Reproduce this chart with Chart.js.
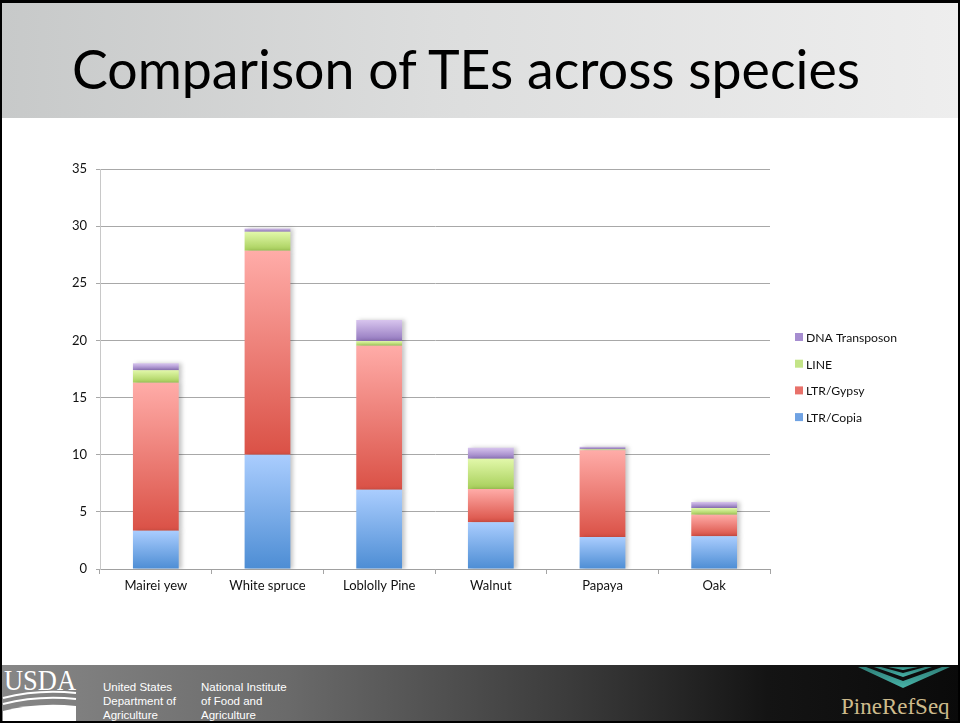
<!DOCTYPE html>
<html>
<head>
<meta charset="utf-8">
<script src="https://cdn.jsdelivr.net/npm/chart.js@4.4.1/dist/chart.umd.min.js"></script>
<style>
  html, body { margin: 0; padding: 0; width: 960px; height: 723px; overflow: hidden; background: #fff; }
  #slide { position: relative; width: 960px; height: 723px; background: #fff; }
  #band { position: absolute; left: 0; top: 0; width: 960px; height: 118px;
          background: linear-gradient(to right, #c7c9c9 0%, #dcdddd 45%, #eeeeee 100%); }
  #titleSvg { position: absolute; left: 0; top: 0; width: 960px; height: 118px; }
  #chartBox { position: absolute; left: 0; top: 130px; width: 960px; height: 500px; }
  #footer { position: absolute; left: 0; top: 665px; width: 960px; height: 58px;
            background: linear-gradient(to right, #878787 0%, #6a6a6a 30%, #3a3a3a 60%, #141414 80%, #0a0a0a 100%); }
  #footerSvg { position: absolute; left: 0; top: 0; width: 960px; height: 58px; }
  #frame { position: absolute; left: 0; top: 0; width: 960px; height: 723px; box-sizing: border-box;
           border-top: 3px solid #000; border-left: 2px solid #000; border-right: 2px solid #000;
           border-bottom: 2px solid #000; pointer-events: none; }
</style>
</head>
<body>
<div id="slide">
  <div id="band"></div>
  <svg id="titleSvg" xmlns="http://www.w3.org/2000/svg">
    <text id="title" x="72" y="89" font-family="Lato, 'Noto Sans', sans-serif" font-size="56" fill="#000">Comparison of TEs across species</text>
  </svg>
  <div id="chartBox"><canvas id="chart" width="960" height="500"></canvas></div>
  <div id="footer">
    <svg id="footerSvg" xmlns="http://www.w3.org/2000/svg">
      <defs>
        <linearGradient id="teal" x1="0" y1="0" x2="0" y2="1">
          <stop offset="0" stop-color="#2f7f78"/>
          <stop offset="1" stop-color="#47b3a8"/>
        </linearGradient>
      </defs>
      <!-- USDA mark -->
      <text x="4" y="25" font-family="'Liberation Serif', 'DejaVu Serif', serif" font-size="29" fill="#fff"
            textLength="72" lengthAdjust="spacingAndGlyphs">USDA</text>
      <path d="M3,33 Q38,24 76,28" stroke="#fff" stroke-width="2" fill="none"/>
      <path d="M3,39 Q38,30 76,34" stroke="#fff" stroke-width="2" fill="none"/>
      <path d="M3,46 Q38,37 76,41 L76,56 L3,56 Z" fill="#fff"/>
      <!-- agency names -->
      <g font-family="'Liberation Sans', Arial, sans-serif" font-size="11.5" fill="#fff">
        <text x="103" y="26">United States</text>
        <text x="103" y="40">Department of</text>
        <text x="103" y="54">Agriculture</text>
        <text x="201" y="26">National Institute</text>
        <text x="201" y="40">of Food and</text>
        <text x="201" y="54">Agriculture</text>
      </g>
      <!-- PineRefSeq mark -->
      <g fill="url(#teal)">
        <path d="M858,2 L903,23 L950,2 L942,2 L903,16 L866,2 Z"/>
        <path d="M874,2 L903,12 L932,2 L925,2 L903,8 L881,2 Z"/>
        <path d="M888,2 L903,5 L918,2 Z"/>
      </g>
      <text x="841" y="49" font-family="'Liberation Serif', 'DejaVu Serif', serif" font-size="23" fill="#cdbb8c">PineRefSeq</text>
    </svg>
  </div>
  <div id="frame"></div>
</div>

<script>
// Species and transposable-element classes
const categories = ['Mairei yew', 'White spruce', 'Loblolly Pine', 'Walnut', 'Papaya', 'Oak'];
const seriesNames = ['LTR/Copia', 'LTR/Gypsy', 'LINE', 'DNA Transposon'];

// Genome percentage per TE class
const ltrCopia      = [3.35, 10.0, 6.93, 4.1, 2.8, 2.87];
const ltrGypsy      = [12.95, 17.85, 12.6, 2.9, 7.6, 1.88];
const lineTE        = [1.1, 1.65, 0.43, 2.65, 0.07, 0.59];
const dnaTransposon = [0.6, 0.3, 1.83, 0.97, 0.23, 0.53];

// Value axis
const yMin = 0;
const yMax = 35;
const yStep = 5;

// Colour ramps (top, bottom) and legend swatches per series
const ramps = [
  ['#aacdfe', '#4d8dd4'],
  ['#ffaca8', '#da5146'],
  ['#e2f8aa', '#a7cf5a'],
  ['#d8c5ee', '#9378bf']
];
const swatches = ['#6fa2e3', '#e8716a', '#c3e487', '#a68dd0'];

// Fit the title to its line
(function () {
  const t = document.getElementById('title');
  const target = 788;
  const w = t.getComputedTextLength();
  if (w > 0) t.setAttribute('font-size', (56 * target / w).toFixed(2));
})();

const seriesData = [ltrCopia, ltrGypsy, lineTE, dnaTransposon];

function segmentFill(ctx) {
  const chart = ctx.chart;
  const ds = ctx.datasetIndex;
  const solid = ramps[ds][1];
  if (ctx.type !== 'data' || !chart.chartArea || !chart.scales.y) return solid;
  const i = ctx.dataIndex;
  let base = 0;
  for (let d = 0; d < ds; d++) base += chart.data.datasets[d].data[i];
  const top = base + chart.data.datasets[ds].data[i];
  const yTop = chart.scales.y.getPixelForValue(top);
  const yBase = chart.scales.y.getPixelForValue(base);
  if (!isFinite(yTop) || !isFinite(yBase) || yTop === yBase) return solid;
  const g = chart.ctx.createLinearGradient(0, yTop, 0, yBase);
  g.addColorStop(0, ramps[ds][0]);
  g.addColorStop(1, ramps[ds][1]);
  return g;
}

// Soft drop shadow under the bar stacks
const barShadow = {
  id: 'barShadow',
  beforeDatasetsDraw(chart) {
    const c = chart.ctx;
    c.save();
    c.shadowColor = 'rgba(0,0,0,0.22)';
    c.shadowBlur = 4;
    c.shadowOffsetX = 3;
    c.shadowOffsetY = 0;
  },
  afterDatasetsDraw(chart) {
    chart.ctx.restore();
  }
};

// Legend to the right of the plot, top entry = last series
const sideLegend = {
  id: 'sideLegend',
  afterDraw(chart) {
    const c = chart.ctx;
    const area = chart.chartArea;
    const x = area.right + 25;
    const y0 = area.top + 169;
    const gap = 26.7;
    c.save();
    c.font = '12.2px Lato, "Noto Sans", sans-serif';
    c.textBaseline = 'middle';
    c.textAlign = 'left';
    const sets = chart.data.datasets;
    for (let k = 0; k < sets.length; k++) {
      const ds = sets.length - 1 - k;
      const y = y0 + k * gap;
      c.fillStyle = swatches[ds];
      c.fillRect(x, y - 5, 8, 8);
      c.fillStyle = '#111';
      c.fillText(sets[ds].label, x + 11, y);
    }
    c.restore();
  }
};

const datasets = seriesData.map((arr, k) => ({
  label: seriesNames[k],
  data: arr,
  backgroundColor: segmentFill,
  borderWidth: 0,
  barPercentage: 0.41,
  categoryPercentage: 1.0
}));

new Chart(document.getElementById('chart'), {
  type: 'bar',
  data: { labels: categories, datasets: datasets },
  plugins: [barShadow, sideLegend],
  options: {
    responsive: false,
    animation: false,
    layout: { padding: { left: 0, right: 190, top: 39, bottom: 0 } },
    plugins: {
      legend: { display: false },
      tooltip: { enabled: false }
    },
    scales: {
      x: {
        stacked: true,
        grid: { offset: true, drawOnChartArea: false, drawTicks: true, tickLength: 5, color: '#a5a5a5' },
        border: { display: true, color: '#a0a0a0', width: 1 },
        ticks: { color: '#111', padding: 4, font: { family: 'Lato, "Noto Sans", sans-serif', size: 13 } },
        afterFit(scale) { scale.height = 61; }
      },
      y: {
        stacked: true,
        min: yMin,
        max: yMax,
        ticks: { stepSize: yStep, color: '#111', padding: 9, font: { family: 'Lato, "Noto Sans", sans-serif', size: 13 } },
        grid: { color: '#a8a8a8', lineWidth: 1, drawTicks: true, tickLength: 4 },
        border: { display: true, color: '#c8c8c8', width: 1 },
        afterFit(scale) { scale.width = 100; }
      }
    }
  }
});
</script>
</body>
</html>
